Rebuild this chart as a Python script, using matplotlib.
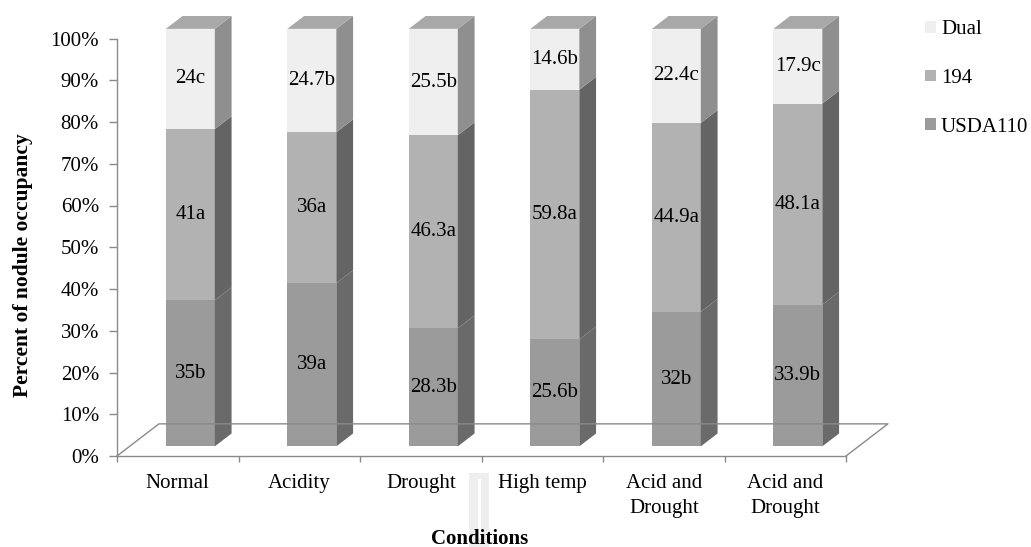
import numpy as np
import matplotlib.pyplot as plt
from matplotlib.patches import Polygon, Patch, Rectangle

# ---- data ----
conditions = ["Normal", "Acidity", "Drought", "High temp",
              "Acid and\nDrought", "Acid and\nDrought"]
usda110 = [35, 39, 28.3, 25.6, 32, 33.9]
s194 = [41, 36, 46.3, 59.8, 44.9, 48.1]
dual = [24, 24.7, 25.5, 14.6, 22.4, 17.9]
usda110_grp = ["b", "a", "b", "b", "b", "b"]
s194_grp = ["a", "a", "a", "a", "a", "a"]
dual_grp = ["c", "b", "b", "b", "c", "c"]

# name, values, letters, front colour, side colour
series = [
    ("USDA110", usda110, usda110_grp, "#9b9b9b", "#6a6a6a"),
    ("194", s194, s194_grp, "#b2b2b2", "#646464"),
    ("Dual", dual, dual_grp, "#efefef", "#8f8f8f"),
]
TOP_COLOR = "#a8a8a8"
LINE_COLOR = "#8a8a8a"

plt.rcParams["font.family"] = ["Liberation Serif", "DejaVu Serif"]
plt.rcParams["font.size"] = 15

# pseudo-3D geometry: floor depth offset in data units
DX, DY = 0.345, 7.7
D0, D1 = 0.3, 0.7      # bar front / back as a fraction of floor depth
W = 0.403

W_PX, H_PX = 1031, 547
fig = plt.figure(figsize=(W_PX / 100, H_PX / 100), dpi=100)
ax = fig.add_axes([117 / W_PX, 91 / H_PX, 6.45 * 121.5 / W_PX, 108 * 4.175 / H_PX])
ax.set_xlim(0, 6.45)
ax.set_ylim(0, 108)

n = len(conditions)
x = np.arange(n)
totals = np.sum([s[1] for s in series], axis=0)
bottom = np.zeros(n)
xf = x + 0.5 + D0 * DX
ddx, ddy = (D1 - D0) * DX, (D1 - D0) * DY

for name, vals, grp, c_front, c_side in series:
    pct = np.array(vals) / totals * 100
    ax.bar(xf, pct, W, bottom=bottom + D0 * DY, color=c_front,
           edgecolor="none", zorder=2)
    for xi, b, h, v, g in zip(xf, bottom, pct, vals, grp):
        xr = xi + W / 2
        y0 = b + D0 * DY
        ax.add_patch(Polygon([(xr, y0), (xr + ddx, y0 + ddy),
                              (xr + ddx, y0 + h + ddy), (xr, y0 + h)],
                             closed=True, facecolor=c_side,
                             edgecolor="none", zorder=2))
        ax.text(xi, y0 + h / 2, f"{v:g}{g}", ha="center", va="center",
                fontsize=15, zorder=6)
    bottom += pct

# top faces
for xi, b in zip(xf, bottom):
    xl, xr = xi - W / 2, xi + W / 2
    y1 = b + D0 * DY
    ax.add_patch(Polygon([(xl, y1), (xr, y1), (xr + ddx, y1 + ddy),
                          (xl + ddx, y1 + ddy)], closed=True,
                         facecolor=TOP_COLOR, edgecolor="none", zorder=2))

# floor outline
ax.plot([0, DX, n + DX, n], [0, DY, DY, 0], color=LINE_COLOR, lw=1.0,
        zorder=4, clip_on=False)

# axes styling
for s in ["top", "right"]:
    ax.spines[s].set_visible(False)
for s in ["left", "bottom"]:
    ax.spines[s].set_color(LINE_COLOR)
    ax.spines[s].set_linewidth(1.0)
ax.spines["left"].set_bounds(0, 100)
ax.spines["bottom"].set_bounds(0, n)

ax.set_yticks(np.arange(0, 101, 10))
ax.set_yticklabels([f"{v}%" for v in range(0, 101, 10)])
ax.tick_params(axis="y", length=6, width=1.0, color=LINE_COLOR, pad=7)

ax.set_xticks(np.arange(0, n + 1))
ax.set_xticklabels([])
ax.set_xticks(x + 0.5, minor=True)
ax.set_xticklabels(conditions, minor=True, linespacing=1.4)
ax.tick_params(axis="x", which="major", length=4.5, width=1.0, color=LINE_COLOR)
ax.tick_params(axis="x", which="minor", length=0, pad=13)

ax.patch.set_visible(False)

fig.text(23 / W_PX, 1 - 265 / H_PX, "Percent of nodule occupancy",
         rotation=90, ha="center", va="center", fontweight="bold", fontsize=15.5)
fig.text(480 / W_PX, 1 - 544 / H_PX, "Conditions", ha="center",
         va="baseline", fontweight="bold")

# faint stripe below the axis
fig.patches.append(Rectangle((469 / W_PX, 0), 20 / W_PX, (547 - 473) / H_PX,
                             transform=fig.transFigure, facecolor="#eeeeee",
                             edgecolor="none", zorder=0))
fig.patches.append(Rectangle((478 / W_PX, 8 / H_PX), 2.5 / W_PX, 60 / H_PX,
                             transform=fig.transFigure, facecolor="white",
                             edgecolor="none", zorder=0))

handles = [Patch(facecolor=s[3], edgecolor="none", label=s[0]) for s in series[::-1]]
fig.legend(handles=handles, loc="upper left", bbox_to_anchor=(917 / W_PX, 1 - 12 / H_PX),
           frameon=False, handlelength=0.5, handleheight=0.5,
           handletextpad=0.25, labelspacing=1.42, borderaxespad=0)

fig.savefig("out.png", dpi=100)
